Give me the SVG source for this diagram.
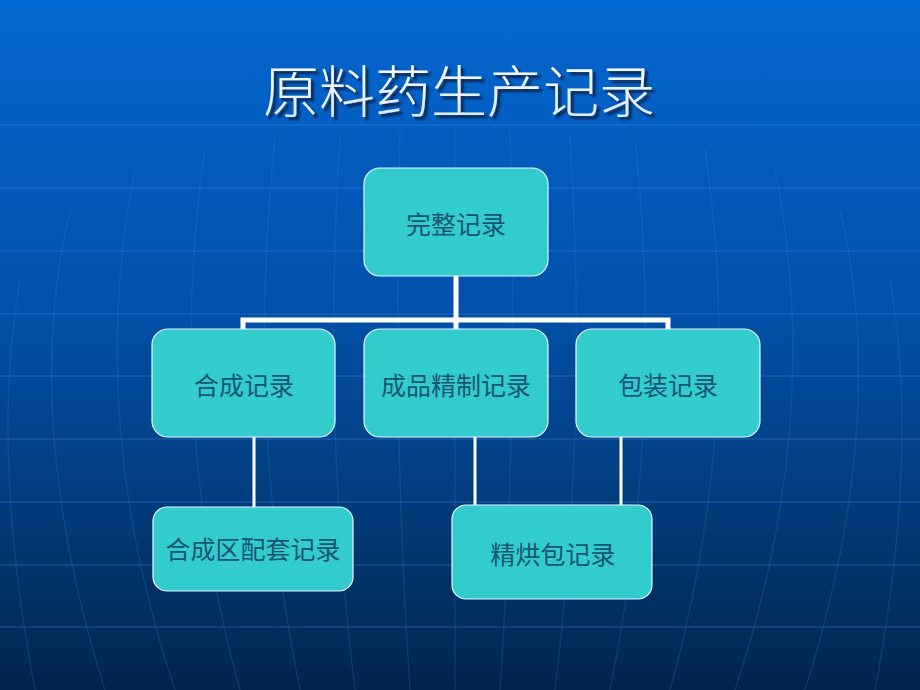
<svg xmlns="http://www.w3.org/2000/svg" width="920" height="690" viewBox="0 0 920 690">
<defs>
<linearGradient id="bg" x1="0" y1="0" x2="0" y2="1">
<stop offset="0" stop-color="#0468d2"/>
<stop offset="0.45" stop-color="#0250a8"/>
<stop offset="0.75" stop-color="#023a78"/>
<stop offset="1" stop-color="#02244c"/>
</linearGradient>
<linearGradient id="tg" x1="0" y1="0" x2="0" y2="1">
<stop offset="0" stop-color="#ffffff"/>
<stop offset="1" stop-color="#d8e8ff"/>
</linearGradient>
<filter id="shadow" x="-10%" y="-30%" width="120%" height="160%">
<feDropShadow dx="3" dy="3" stdDeviation="0.8" flood-color="#0a1830" flood-opacity="0.85"/>
</filter>
<style>
.grid{stroke:#3f8cf0;stroke-opacity:0.22;stroke-width:2;fill:none}
.mer{stroke:#4a8ee8;stroke-opacity:0.18;stroke-width:1.5;fill:none}
.box{fill:#33cccc;stroke:#e8f4ff;stroke-width:1.2}
.lbl{font-family:"Noto Sans CJK SC","Noto Sans",sans-serif;font-size:25px;fill:#1a5478;text-anchor:middle;dominant-baseline:central}
.conn{stroke:#ffffff;fill:none}
.title{font-family:"Noto Sans CJK SC","Noto Sans",sans-serif;font-size:56px;font-weight:300;text-anchor:middle;dominant-baseline:central}
</style>
</defs>
<rect width="920" height="690" fill="url(#bg)"/>
<g id="background-grid">
<path class="grid" d="M0 125H920M0 188H920M0 251H920M0 314H920M0 376H920M0 439H920M0 502H920M0 565H920M0 627H920"/>
<path class="mer" d="M455 130V690"/>
<path class="mer" d="M400 130Q392 420 410 690M510 130Q518 420 500 690"/>
<path class="mer" d="M340 135Q322 420 355 690M570 135Q588 420 555 690"/>
<path class="mer" d="M275 140Q245 420 300 690M635 140Q665 420 610 690"/>
<path class="mer" d="M205 150Q165 420 240 690M705 150Q745 420 670 690"/>
<path class="mer" d="M135 170Q85 420 175 690M775 170Q825 420 735 690"/>
<path class="mer" d="M70 210Q20 420 105 690M840 210Q890 420 805 690"/>
<path class="mer" d="M20 280Q-10 450 35 690M890 280Q920 450 875 690"/>
</g>
<g id="title">
<text class="title" x="459" y="87" fill="url(#tg)" filter="url(#shadow)">原料药生产记录</text>
</g>
<g id="connectors">
<path class="conn" stroke-width="5" d="M456 276V320M243 329V320H668V329M456 320V329"/>
<path class="conn" stroke-width="3" d="M254 437V507M475 437V506M621 437V506"/>
</g>
<g id="node-complete">
<rect class="box" x="364" y="168" width="184" height="108" rx="16"/>
<text class="lbl" x="456" y="223">完整记录</text>
</g>
<g id="node-synthesis">
<rect class="box" x="152" y="329" width="183" height="108" rx="16"/>
<text class="lbl" x="244" y="384">合成记录</text>
</g>
<g id="node-refine">
<rect class="box" x="364" y="329" width="184" height="108" rx="16"/>
<text class="lbl" x="456" y="384">成品精制记录</text>
</g>
<g id="node-package">
<rect class="box" x="576" y="329" width="184" height="108" rx="16"/>
<text class="lbl" x="668" y="384">包装记录</text>
</g>
<g id="node-synthesis-area">
<rect class="box" x="153" y="507" width="200" height="84" rx="14"/>
<text class="lbl" x="253" y="548">合成区配套记录</text>
</g>
<g id="node-dry-pack">
<rect class="box" x="452" y="505" width="200" height="94" rx="14"/>
<text class="lbl" x="553" y="553">精烘包记录</text>
</g>
</svg>
